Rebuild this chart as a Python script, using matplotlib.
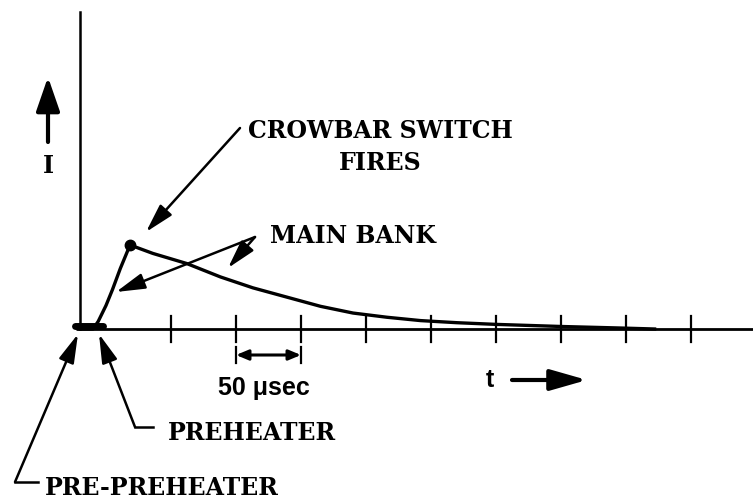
"""
Crowbar discharge sketch: current I vs time t
"""

import numpy as np
import matplotlib
matplotlib.use('Agg')
import matplotlib.pyplot as plt

# ---- data (time in usec, current in relative units) ----
T_US = [0, 10, 14, 20, 25, 31, 38.5, 56, 82, 108, 133, 159, 185, 210, 236, 262,
        290, 320, 370, 415, 442]
I_REL = [0, 0.0, 0.09, 0.28, 0.47, 0.72, 1.0, 0.90, 0.78, 0.62, 0.49, 0.38, 0.27,
         0.19, 0.14, 0.10, 0.075, 0.055, 0.03, 0.012, 0]
T_CROWBAR = 38.5
I_CROWBAR = 1.0
T_TICKS = [70, 120, 170, 220, 270, 320, 370, 420, 470]
SCALE_BAR = (120, 170)  # 50 usec
PREHEAT_SPAN = (-4, 18)

# ---- layout (pixel mapping of the 753x500 sketch) ----
W, H = 753, 500
X0, Y0 = 80, 329      # origin in pixels
SX, SY = 1.3, 84.0    # px per usec, px per unit current

SERIF = ['DejaVu Serif']
SANS = ['Liberation Sans', 'DejaVu Sans']


def fp(x, y):
    """pixel (top-left origin) -> axes fraction"""
    return (x / W, 1 - y / H)


fig = plt.figure(figsize=(W / 100, H / 100), dpi=100)
ax = fig.add_axes([0, 0, 1, 1])
ax.set_xlim(-X0 / SX, (W - X0) / SX)
ax.set_ylim(-(H - Y0) / SY, Y0 / SY)
ax.axis('off')

# axes of the sketch
ax.plot([-3, (W - X0) / SX], [0, 0], color='black', lw=2.0, solid_capstyle='butt')
ax.plot([0, 0], [0, (Y0 - 12) / SY], color='black', lw=1.8)
for t in T_TICKS:
    ax.plot([t, t], [-0.15, 0.15], color='black', lw=1.6)

# pre-preheater / preheater blob on the axis
ax.plot(PREHEAT_SPAN, [0.03, 0.03], color='black', lw=5, solid_capstyle='round')

# discharge curve
ax.plot(T_US, I_REL, color='black', lw=2.4, solid_joinstyle='round')
ax.plot([T_CROWBAR], [I_CROWBAR], 'o', color='black', markersize=7.5)

# 50 usec scale bar
yb = -(355 - Y0) / SY
ax.annotate('', xy=(SCALE_BAR[0], yb), xytext=(SCALE_BAR[1], yb),
            arrowprops=dict(arrowstyle='<|-|>,head_length=0.6,head_width=0.25',
                            color='black', lw=2.2, mutation_scale=12, shrinkA=0, shrinkB=0))
for t in SCALE_BAR:
    ax.plot([t, t], [yb - 0.1, yb + 0.1], color='black', lw=1.6)

arrow_kw = dict(arrowstyle='-|>,head_length=1.1,head_width=0.3', color='black',
                lw=1.8, mutation_scale=16, shrinkA=0, shrinkB=0)


def pointer(tail, tip):
    ax.annotate('', xy=fp(*tip), xycoords='axes fraction',
                xytext=fp(*tail), textcoords='axes fraction', arrowprops=arrow_kw)


# label pointers
pointer((240, 128), (146, 232))   # crowbar switch fires
pointer((255, 237), (116, 292))   # main bank (rise)
pointer((255, 237), (228, 268))   # main bank (decay)
pointer((15, 482), (78, 334))     # pre-preheater
pointer((135, 427), (99, 334))    # preheater
for (xa, xb, y) in [(15, 38, 482), (135, 153, 427)]:
    ax.plot(*zip(fp(xa, y), fp(xb, y)), color='black', lw=1.8, transform=ax.transAxes)

# I arrow and t arrow
ax.annotate('', xy=fp(48, 77), xycoords='axes fraction', xytext=fp(48, 142),
            textcoords='axes fraction',
            arrowprops=dict(arrowstyle='-|>,head_length=1.3,head_width=0.45', color='black',
                            lw=3, mutation_scale=16, shrinkA=0, shrinkB=0))
ax.annotate('', xy=fp(587, 380), xycoords='axes fraction', xytext=fp(512, 380),
            textcoords='axes fraction',
            arrowprops=dict(arrowstyle='-|>,head_length=1.4,head_width=0.4', color='black',
                            lw=3, mutation_scale=16, shrinkA=0, shrinkB=0))

# text
tkw = dict(transform=ax.transAxes, fontsize=17, fontweight='bold', family=SERIF,
           va='baseline', color='black')
ax.text(*fp(48, 173), 'I', ha='center', **tkw)
ax.text(*fp(380, 138), 'CROWBAR SWITCH', ha='center', **tkw)
ax.text(*fp(380, 170), 'FIRES', ha='center', **tkw)
ax.text(*fp(270, 243), 'MAIN BANK', ha='left', **tkw)
ax.text(*fp(168, 440), 'PREHEATER', ha='left', **tkw)
ax.text(*fp(45, 495), 'PRE-PREHEATER', ha='left', **tkw)

skw = dict(transform=ax.transAxes, fontsize=18, fontweight='bold', family=SANS,
           va='baseline', color='black')
ax.text(*fp(218, 395), '50 \u03bcsec', ha='left', **skw)
ax.text(*fp(490, 387), 't', ha='center', **skw)

fig.savefig('out.png', dpi=100)
